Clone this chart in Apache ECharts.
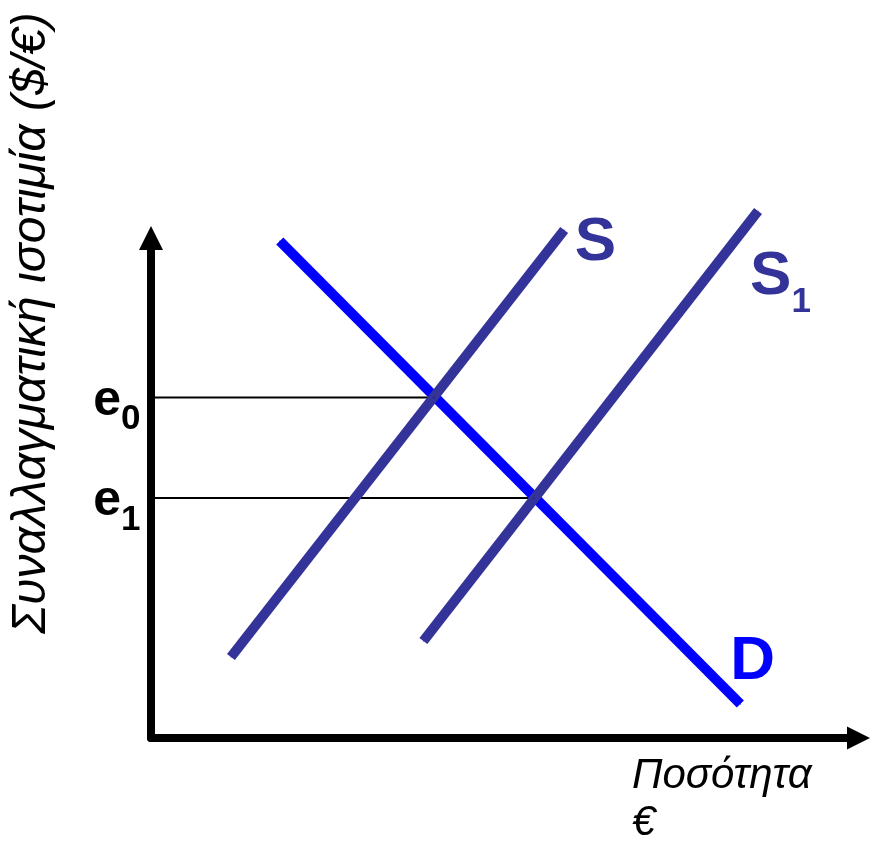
<!DOCTYPE html>
<html>
<head>
<meta charset="utf-8">
<script src="https://cdn.jsdelivr.net/npm/echarts@6/dist/echarts.min.js"></script>
<style>
html,body{margin:0;padding:0;background:#fff;}
#chart{width:871px;height:841px;}
</style>
</head>
<body>
<div id="chart"></div>
<script>
// Curves (quantity, exchange rate) in chart units 0..100
const demandD = [[18.2, 99.4], [83.3, 6.8]];
const supplyS = [[11.3, 16.2], [58.4, 101.6]];
const supplyS1 = [[38.5, 19.4], [85.8, 105.4]];
// Equilibrium rates and the quantity where each guide line ends
const rateE0 = 68.1, qtyE0 = 40.0;
const rateE1 = 48.0, qtyE1 = 54.1;
// Texts
const yTitle = 'Συναλλαγματική ισοτιμία ($/€)';
const xTitle = 'Ποσότητα\n€';
const labelS = 'S', labelS1 = ['S', '1'], labelD = 'D';
const labelE0 = ['e', '0'], labelE1 = ['e', '1'];

const FONT = '"Liberation Sans", Arial, sans-serif';
const NAVY = '#333399', BLUE = '#0000ff';

function richLabel(main, sub, color, mainSize, subSize, subPad) {
  return {
    formatter: sub ? '{b|' + main + '}{s|' + sub + '}' : '{b|' + main + '}',
    rich: {
      b: {fontFamily: FONT, fontWeight: 'bold', fontSize: mainSize, lineHeight: mainSize, color: color, verticalAlign: 'top'},
      s: {fontFamily: FONT, fontWeight: 'bold', fontSize: subSize, lineHeight: subSize, color: color, verticalAlign: 'top', padding: [subPad, 0, 0, 0]}
    }
  };
}

function withLabel(points, idx, lbl, pos, align) {
  return points.map((p, i) => i === idx ? {
    value: p,
    label: Object.assign({show: true, position: pos, align: align, verticalAlign: 'top'}, lbl)
  } : {value: p});
}

const chart = echarts.init(document.getElementById('chart'), null, {renderer: 'canvas'});
const lineBase = {type: 'line', symbol: 'circle', symbolSize: 1, showSymbol: true, clip: false, silent: true, animation: false, label: {show: false}};

chart.setOption({
  animation: false,
  backgroundColor: '#ffffff',
  grid: {left: 151, top: 238, right: 12.5, bottom: 103, containLabel: false, outerBoundsMode: 'none'},
  xAxis: {
    type: 'value', min: 0, max: 100,
    axisLine: {show: true, symbol: ['none', 'triangle'], symbolSize: [23, 23], lineStyle: {color: '#000', width: 8}},
    axisTick: {show: false}, axisLabel: {show: false}, splitLine: {show: false}
  },
  yAxis: {
    type: 'value', min: 0, max: 100,
    axisLine: {show: true, symbol: ['none', 'triangle'], symbolSize: [24, 24], lineStyle: {color: '#000', width: 8}},
    axisTick: {show: false}, axisLabel: {show: false}, splitLine: {show: false}
  },
  graphic: [
    {type: 'text', x: 32, y: 323, rotation: Math.PI / 2,
     style: {text: yTitle, fontFamily: FONT, fontStyle: 'italic', fontSize: 48, fill: '#000', align: 'center', verticalAlign: 'middle'}},
    {type: 'text', x: 632, y: 753,
     style: {text: xTitle, fontFamily: FONT, fontStyle: 'italic', fontSize: 42, lineHeight: 47, fill: '#000', align: 'left', verticalAlign: 'top'}}
  ],
  series: [
    Object.assign({}, lineBase, {
      name: 'e0', itemStyle: {color: '#000'}, lineStyle: {color: '#000', width: 2},
      data: withLabel([[0, rateE0], [qtyE0, rateE0]], 0, richLabel(labelE0[0], labelE0[1], '#000', 50, 35, 26), [-10, -21], 'right')
    }),
    Object.assign({}, lineBase, {
      name: 'e1', itemStyle: {color: '#000'}, lineStyle: {color: '#000', width: 2},
      data: withLabel([[0, rateE1], [qtyE1, rateE1]], 0, richLabel(labelE1[0], labelE1[1], '#000', 50, 35, 26), [-10, -21], 'right')
    }),
    Object.assign({}, lineBase, {
      name: 'D', itemStyle: {color: BLUE}, lineStyle: {color: BLUE, width: 10},
      data: withLabel(demandD, 1, richLabel(labelD, null, BLUE, 62, 35, 0), [-9.5, -73], 'left')
    }),
    Object.assign({}, lineBase, {
      name: 'S', itemStyle: {color: NAVY}, lineStyle: {color: NAVY, width: 10},
      data: withLabel(supplyS, 1, richLabel(labelS, null, NAVY, 62, 35, 0), [11, -17.5], 'left')
    }),
    Object.assign({}, lineBase, {
      name: 'S1', itemStyle: {color: NAVY}, lineStyle: {color: NAVY, width: 10},
      data: withLabel(supplyS1, 1, richLabel(labelS1[0], labelS1[1], NAVY, 62, 35, 39), [-7.5, 35.5], 'left')
    })
  ]
});
</script>
</body>
</html>
